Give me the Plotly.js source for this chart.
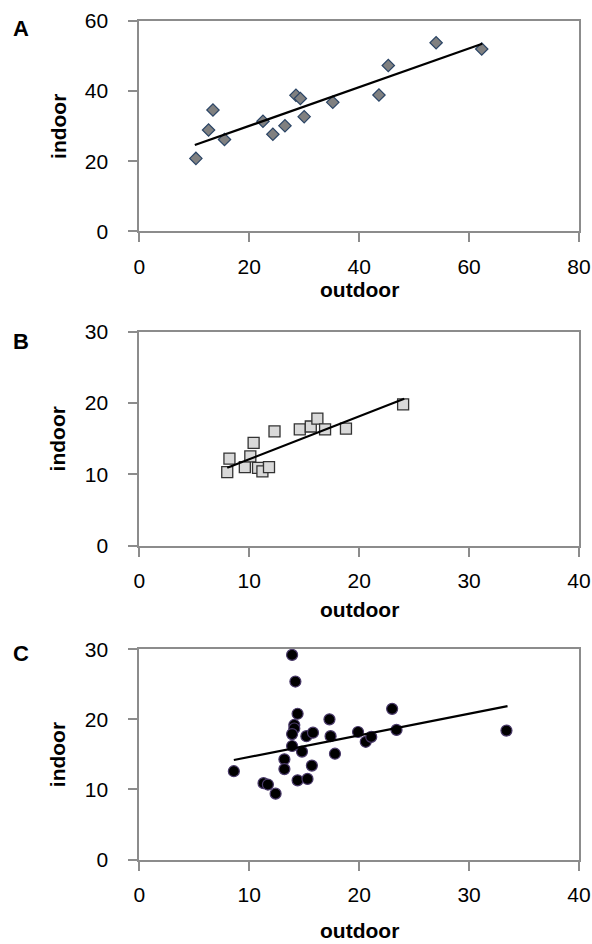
<!DOCTYPE html>
<html>
<head>
<meta charset="utf-8">
<script src="https://cdn.plot.ly/plotly-3.0.1.min.js"></script>
<style>
  html, body { margin: 0; padding: 0; background: #ffffff; }
  #chart { width: 592px; height: 944px; }
</style>
</head>
<body>
<div id="chart"></div>
<script>
// ---- Data ----
const panelLabels = ["A", "B", "C"];
const xTitle = "outdoor";
const yTitle = "indoor";

// Panel A
const A_outdoor = [10.3, 12.6, 13.4, 15.5, 22.5, 24.3, 26.5, 28.5, 29.3, 30.0, 35.2, 43.6, 45.3, 54.0, 62.3];
const A_indoor  = [20.8, 28.9, 34.6, 26.2, 31.4, 27.7, 30.1, 38.8, 37.9, 32.7, 36.8, 38.9, 47.3, 53.8, 52.0];
const A_trendX  = [10.1, 62.4];
const A_trendY  = [24.6, 53.5];

// Panel B
const B_outdoor = [8.0, 8.2, 9.6, 10.1, 10.4, 10.8, 11.2, 11.8, 12.3, 14.6, 15.6, 16.2, 16.9, 18.8, 24.0];
const B_indoor  = [10.3, 12.2, 11.0, 12.5, 14.4, 10.9, 10.4, 11.0, 16.0, 16.3, 16.7, 17.8, 16.3, 16.4, 19.8];
const B_trendX  = [8.0, 24.1];
const B_trendY  = [10.9, 20.6];

// Panel C
const C_outdoor = [13.9, 14.2, 14.4, 14.1, 14.1, 13.9, 13.9, 14.8, 13.2, 13.2, 8.6, 11.3, 11.7, 12.4,
                   14.4, 15.3, 15.7, 15.2, 15.8, 17.3, 17.4, 17.8, 19.9, 20.6, 21.1, 23.0, 23.4, 33.4];
const C_indoor  = [29.2, 25.4, 20.8, 19.2, 18.7, 17.9, 16.2, 15.4, 14.3, 12.9, 12.6, 10.9, 10.7, 9.4,
                   11.3, 11.5, 13.4, 17.6, 18.1, 20.0, 17.6, 15.1, 18.2, 16.8, 17.5, 21.5, 18.5, 18.4];
const C_trendX  = [8.6, 33.5];
const C_trendY  = [14.2, 21.9];

// Axis ranges / ticks
const xRanges = [[0, 80], [0, 40], [0, 40]];
const xTicks  = [20, 10, 10];
const yRanges = [[0, 60], [0, 30], [0, 30]];
const yTicks  = [20, 10, 10];

// ---- Layout geometry (pixels in a 592x944 page) ----
const W = 592, H = 944;
const plotLeft = 139.3, plotRight = 579;
const panels = [
  { top: 21,    bottom: 231.3 },
  { top: 331.7, bottom: 545.5 },
  { top: 649.3, bottom: 859.5 }
];
const xTitleY = [289.5, 609, 930];
const letterPos = [[20.5, 28.3], [20.5, 341.7], [20.5, 653.3]];
const yTitleX = 57.8;

const px = v => v / W;
const py = v => 1 - v / H;

const FONT = "Liberation Sans, Arial, Helvetica, sans-serif";
const AXIS_GRAY = "#8c8c8c";

const markerStyles = [
  { symbol: "diamond", size: 9.5, color: "#808080", line: { color: "#2b4566", width: 1.2 } },
  { symbol: "square",  size: 11,  color: "#d9d9d9", line: { color: "#333333", width: 1.3 } },
  { symbol: "circle",  size: 11,  color: "#000000", line: { color: "#4a3a6a", width: 1.2 } }
];

const seriesX = [A_outdoor, B_outdoor, C_outdoor];
const seriesY = [A_indoor, B_indoor, C_indoor];
const trendX = [A_trendX, B_trendX, C_trendX];
const trendY = [A_trendY, B_trendY, C_trendY];

const traces = [];
const layout = {
  width: W, height: H,
  margin: { l: 0, r: 0, t: 0, b: 0 },
  paper_bgcolor: "#ffffff",
  plot_bgcolor: "#ffffff",
  showlegend: false,
  font: { family: FONT, size: 21, color: "#000000" },
  annotations: []
};

for (let i = 0; i < 3; i++) {
  const sfx = i === 0 ? "" : String(i + 1);
  const xa = "x" + sfx, ya = "y" + sfx;

  traces.push({
    type: "scatter", mode: "markers",
    x: seriesX[i], y: seriesY[i],
    xaxis: xa, yaxis: ya,
    marker: markerStyles[i],
    cliponaxis: false,
    hoverinfo: "skip"
  });
  traces.push({
    type: "scatter", mode: "lines",
    x: trendX[i], y: trendY[i],
    xaxis: xa, yaxis: ya,
    line: { color: "#000000", width: 2.2 },
    hoverinfo: "skip"
  });

  const common = {
    showgrid: false, zeroline: false,
    showline: true, linecolor: AXIS_GRAY, linewidth: 2,
    mirror: true,
    ticks: "outside", ticklen: 9, tickwidth: 2, tickcolor: AXIS_GRAY,
    tickfont: { family: FONT, size: 21, color: "#000000" },
    fixedrange: true
  };

  layout["xaxis" + sfx] = Object.assign({}, common, {
    domain: [px(plotLeft), px(plotRight)],
    anchor: ya,
    range: xRanges[i], tickmode: "linear", tick0: 0, dtick: xTicks[i],
    ticklabelstandoff: 6
  });
  layout["yaxis" + sfx] = Object.assign({}, common, {
    domain: [py(panels[i].bottom), py(panels[i].top)],
    anchor: xa,
    range: yRanges[i], tickmode: "linear", tick0: 0, dtick: yTicks[i],
    ticklabelstandoff: 16
  });

  // x-axis title
  layout.annotations.push({
    xref: "paper", yref: "paper",
    x: px((plotLeft + plotRight) / 2), y: py(xTitleY[i]),
    xanchor: "center", yanchor: "middle",
    text: "<b>" + xTitle + "</b>", showarrow: false,
    font: { family: FONT, size: 21, color: "#000000" }
  });
  // y-axis title
  layout.annotations.push({
    xref: "paper", yref: "paper",
    x: px(yTitleX), y: py((panels[i].top + panels[i].bottom) / 2),
    xanchor: "center", yanchor: "middle",
    textangle: -90,
    text: "<b>" + yTitle + "</b>", showarrow: false,
    font: { family: FONT, size: 21, color: "#000000" }
  });
  // panel letter
  layout.annotations.push({
    xref: "paper", yref: "paper",
    x: px(letterPos[i][0]), y: py(letterPos[i][1]),
    xanchor: "center", yanchor: "middle",
    text: "<b>" + panelLabels[i] + "</b>", showarrow: false,
    font: { family: FONT, size: 22, color: "#000000" }
  });
}

Plotly.newPlot("chart", traces, layout, { staticPlot: true, displayModeBar: false });
</script>
</body>
</html>
